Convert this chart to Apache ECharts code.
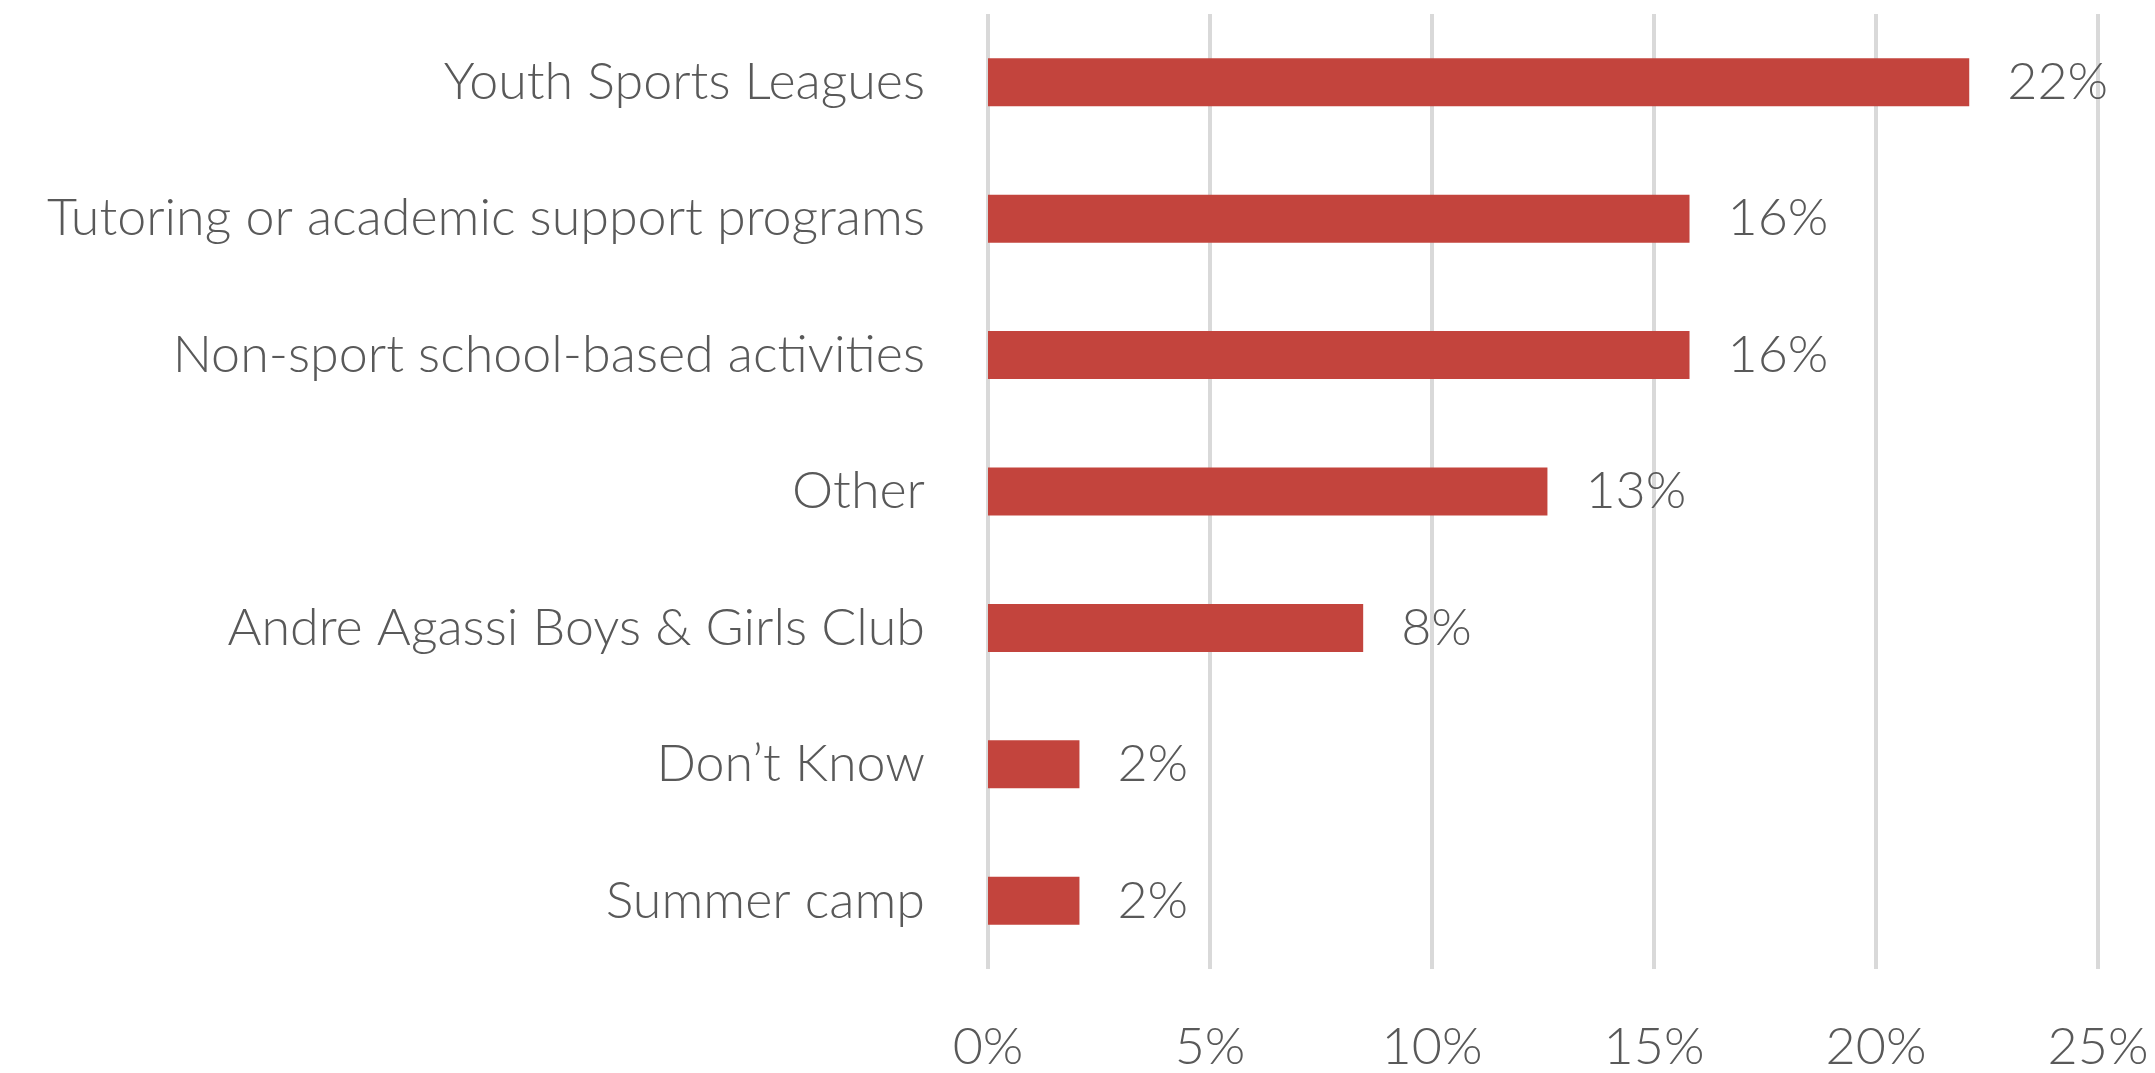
<!DOCTYPE html>
<html>
<head>
<meta charset="utf-8">
<title>Programs</title>
<script src="https://cdn.jsdelivr.net/npm/echarts@6/dist/echarts.min.js"></script>
<style>
    html, body { margin: 0; padding: 0; background: #fff; }
    #chart { width: 2155px; height: 1073px; }
</style>
</head>
<body>
<div id="chart"></div>
<script>
    // 数据
    const categories = [
        'Youth Sports Leagues',
        'Tutoring or academic support programs',
        'Non-sport school-based activities',
        'Other',
        'Andre Agassi Boys & Girls Club',
        'Don\u2019t Know',
        'Summer camp'
    ];
    const values = [22.1, 15.8, 15.8, 12.6, 8.45, 2.06, 2.06];
    const xTicks = [0, 5, 10, 15, 20, 25];

    const fontFamily = 'Lato';
    const textColor = '#595959';

    const chart = echarts.init(document.getElementById('chart'));
    chart.setOption({
        backgroundColor: '#FFFFFF',
        animation: false,
        grid: {
            left: 988,
            right: 57,
            top: 14,
            bottom: 95,
            containLabel: false
        },
        xAxis: {
            type: 'value',
            min: xTicks[0],
            max: xTicks[xTicks.length - 1],
            interval: xTicks[1] - xTicks[0],
            axisLine: { show: false },
            axisTick: { show: false },
            axisLabel: {
                margin: 52,
                color: textColor,
                fontFamily: fontFamily,
                fontWeight: 300,
                fontSize: 52,
                formatter: '{value}%'
            },
            splitLine: {
                show: true,
                lineStyle: {
                    color: '#d9d9d9',
                    width: 4
                }
            }
        },
        yAxis: {
            type: 'category',
            inverse: true,
            data: categories,
            axisLine: { show: false },
            axisTick: { show: false },
            splitLine: { show: false },
            axisLabel: {
                margin: 63,
                color: textColor,
                fontFamily: fontFamily,
                fontWeight: 300,
                fontSize: 52
            }
        },
        series: [{
            type: 'bar',
            data: values,
            barWidth: 48,
            itemStyle: {
                color: '#C3443D'
            },
            label: {
                show: true,
                position: 'right',
                distance: 38,
                color: textColor,
                fontFamily: fontFamily,
                fontWeight: 300,
                fontSize: 52,
                formatter: function (p) {
                    return Math.round(p.value) + '%';
                }
            }
        }]
    });
</script>
</body>
</html>
